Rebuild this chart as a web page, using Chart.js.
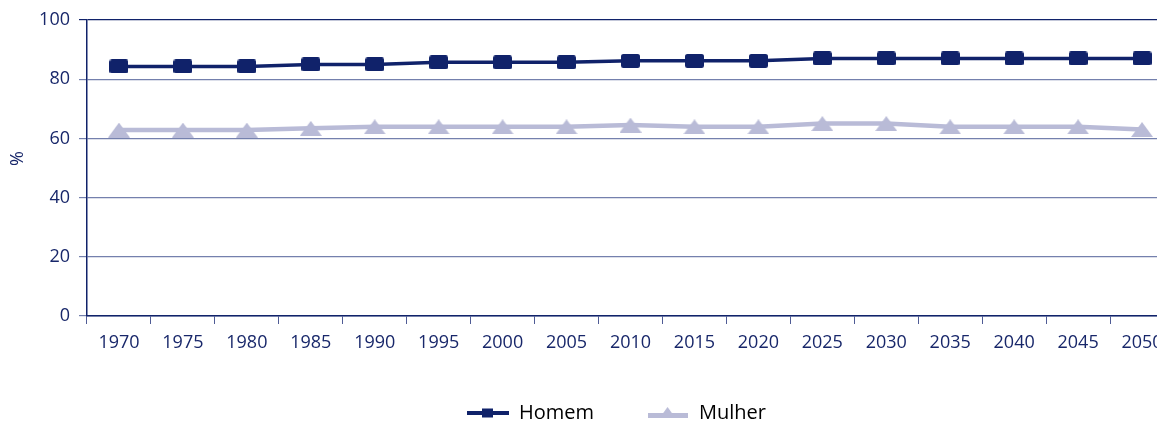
<!DOCTYPE html>
<html>
<head>
<meta charset="utf-8">
<script src="https://cdn.jsdelivr.net/npm/chart.js@4"></script>
<style>
  html, body { margin: 0; padding: 0; background: #fff; overflow: hidden; }
</style>
</head>
<body>
<canvas id="chart" width="1233" height="421"></canvas>
<script>
// data
var years = ['1970', '1975', '1980', '1985', '1990', '1995', '2000', '2005', '2010',
             '2015', '2020', '2025', '2030', '2035', '2040', '2045', '2050'];
var homem = [84.3, 84.3, 84.3, 85.0, 85.0, 85.7, 85.7, 85.7, 86.2,
             86.2, 86.2, 87.0, 87.0, 87.0, 87.0, 87.0, 87.0];
var mulher = [62.8, 62.8, 62.8, 63.4, 63.9, 63.9, 63.9, 63.9, 64.5,
              63.9, 63.9, 65.0, 65.0, 63.9, 63.9, 63.9, 63.0];
var seriesNames = ['Homem', 'Mulher'];
var yTicks = [0, 20, 40, 60, 80, 100];

var navy = '#10226a';
var lilac = '#b9bbd7';
var textColor = '#18276a';
var gridColor = '#7480ad';

// marker images
function makeCanvas(w, h) {
  var c = document.createElement('canvas');
  c.width = w; c.height = h;
  return c;
}
function squareMark(w, h) {
  var c = makeCanvas(w, h), g = c.getContext('2d');
  g.fillStyle = navy;
  g.beginPath(); g.roundRect(0, 0, w, h, 2.5); g.fill();
  return c;
}
function triangleMark(w, h) {
  var c = makeCanvas(w, h), g = c.getContext('2d');
  g.fillStyle = lilac;
  g.beginPath(); g.moveTo(0, h); g.lineTo(w / 2, 0); g.lineTo(w, h); g.closePath(); g.fill();
  return c;
}
function legendHomem() {
  var c = makeCanvas(42, 14), g = c.getContext('2d');
  g.fillStyle = navy;
  g.fillRect(0, 5, 42, 4);
  g.fillRect(15, 2.5, 11, 9);
  return c;
}
function legendMulher() {
  var c = makeCanvas(40, 14), g = c.getContext('2d');
  g.fillStyle = lilac;
  g.fillRect(0, 7, 40, 5);
  g.beginPath(); g.moveTo(13, 10); g.lineTo(19.5, 1); g.lineTo(26, 10); g.closePath(); g.fill();
  return c;
}
var legendIcons = [legendHomem(), legendMulher()];

Chart.defaults.font.family = '"Open Sans", sans-serif';
Chart.defaults.color = textColor;

var ctx = document.getElementById('chart');
var chart = new Chart(ctx, {
  type: 'line',
  data: {
    labels: years,
    datasets: [{
      label: seriesNames[0],
      data: homem,
      borderColor: navy,
      backgroundColor: navy,
      borderWidth: 3.5,
      pointStyle: squareMark(19, 14),
      tension: 0
    }, {
      label: seriesNames[1],
      data: mulher,
      borderColor: lilac,
      backgroundColor: lilac,
      borderWidth: 4.5,
      pointStyle: triangleMark(22, 15),
      tension: 0
    }]
  },
  options: {
    responsive: false,
    animation: false,
    layout: { padding: { top: 20, left: 0, right: 0, bottom: 0 } },
    plugins: {
      tooltip: { enabled: false },
      legend: {
        position: 'bottom',
        maxHeight: 71,
        labels: {
          usePointStyle: true,
          pointStyleWidth: 42,
          padding: 53,
          color: textColor,
          font: { size: 20 },
          generateLabels: function (chart) {
            return chart.data.datasets.map(function (ds, i) {
              return {
                text: ds.label,
                pointStyle: legendIcons[i],
                fillStyle: ds.borderColor,
                strokeStyle: ds.borderColor,
                lineWidth: 0,
                hidden: false,
                datasetIndex: i
              };
            });
          }
        }
      }
    },
    scales: {
      x: {
        offset: true,
        grid: {
          offset: true,
          drawOnChartArea: false,
          drawTicks: true,
          tickLength: 8,
          color: '#4f5b95'
        },
        border: { color: navy, width: 1.5 },
        ticks: {
          autoSkip: false,
          maxRotation: 0,
          padding: 8,
          color: textColor,
          font: { size: 18 }
        },
        afterFit: function (s) { s.height = 34; }
      },
      y: {
        min: 0,
        max: 100,
        afterBuildTicks: function (s) {
          s.ticks = yTicks.map(function (v) { return { value: v }; });
        },
        grid: {
          tickLength: 8,
          lineWidth: 1.2,
          color: function (c) {
            return c.tick && c.tick.value === 100 ? navy : gridColor;
          }
        },
        border: { color: navy, width: 1.5 },
        ticks: {
          padding: 9,
          color: textColor,
          font: { size: 18 }
        },
        title: {
          display: true,
          text: '    %',
          color: textColor,
          font: { size: 18 },
          padding: { top: 7, bottom: 4 }
        },
        afterFit: function (s) { s.width = 87; }
      },
      y2: {
        position: 'right',
        grid: { display: false },
        border: { display: false },
        ticks: { display: false },
        afterFit: function (s) { s.width = 59; }
      }
    }
  }
});
</script>
</body>
</html>
